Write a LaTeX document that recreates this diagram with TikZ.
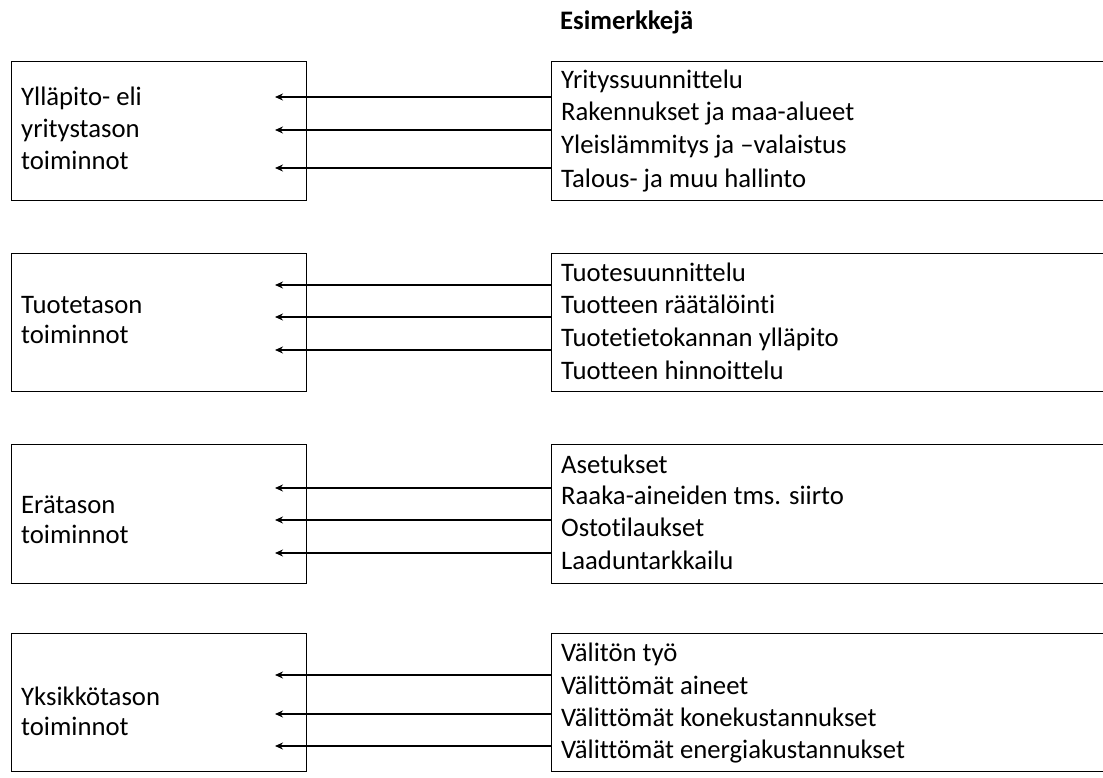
\documentclass[tikz,border=0pt]{standalone}
\usepackage{fontspec}
\setmainfont{Carlito}[Ligatures={NoCommon}]
\usetikzlibrary{arrows.meta}
\begin{document}
\begin{tikzpicture}[x=1pt,y=-1pt,
  box/.style={draw, line width=1.4pt, rectangle, inner sep=0pt, anchor=north west},
  txt/.style={anchor=base west, inner sep=0pt, font=\fontsize{26.7}{32}\selectfont},
  head/.style={anchor=base west, inner sep=0pt, font=\bfseries\fontsize{26.7}{32}\selectfont},
  arr/.style={line width=1.3pt, -{Stealth[length=8pt,width=7pt]}}]
\useasboundingbox (0,0) rectangle (1103,778);

\node[head] (title) at (560,30) {Esimerkkejä};

% ---- boxes
\node[box, minimum width=295pt, minimum height=139pt] (L1) at (11,61) {};
\node[box, minimum width=295pt, minimum height=138pt] (L2) at (11,253) {};
\node[box, minimum width=295pt, minimum height=139pt] (L3) at (11,444) {};
\node[box, minimum width=295pt, minimum height=138pt] (L4) at (11,633) {};
\node[box, minimum width=570pt, minimum height=139pt] (R1) at (551,61) {};
\node[box, minimum width=570pt, minimum height=138pt] (R2) at (551,253) {};
\node[box, minimum width=570pt, minimum height=139pt] (R3) at (551,444) {};
\node[box, minimum width=570pt, minimum height=138pt] (R4) at (551,633) {};

% ---- left texts
\node[txt] (l1a) at (21,106) {Ylläpito- eli};
\node[txt] (l1b) at (21,138) {yritystason};
\node[txt] (l1c) at (21,170) {toiminnot};
\node[txt] (l2a) at (21,313) {Tuotetason};
\node[txt] (l2b) at (21,343) {toiminnot};
\node[txt] (l3a) at (21,513) {Erätason};
\node[txt] (l3b) at (21,543) {toiminnot};
\node[txt] (l4a) at (21,705) {Yksikkötason};
\node[txt] (l4b) at (21,735) {toiminnot};

% ---- right texts
\node[txt] (r1a) at (561,89) {Yrityssuunnittelu};
\node[txt] (r1b) at (561,121) {Rakennukset ja maa-alueet};
\node[txt] (r1c) at (561,154) {Yleislämmitys ja –valaistus};
\node[txt] (r1d) at (561,188) {Talous- ja muu hallinto};
\node[txt] (r2a) at (561,281) {Tuotesuunnittelu};
\node[txt] (r2b) at (561,313) {Tuotteen räätälöinti};
\node[txt] (r2c) at (561,346) {Tuotetietokannan ylläpito};
\node[txt] (r2d) at (561,379) {Tuotteen hinnoittelu};
\node[txt] (r3a) at (561,473) {Asetukset};
\node[txt] (r3b) at (561,504) {Raaka-aineiden tms. siirto};
\node[txt] (r3c) at (561,536) {Ostotilaukset};
\node[txt] (r3d) at (561,569) {Laaduntarkkailu};
\node[txt] (r4a) at (561,661) {Välitön työ};
\node[txt] (r4b) at (561,694) {Välittömät aineet};
\node[txt] (r4c) at (561,726) {Välittömät konekustannukset};
\node[txt] (r4d) at (561,758) {Välittömät energiakustannukset};

% ---- arrow end points
\coordinate (e1a) at (275,97);
\coordinate (e1b) at (275,130);
\coordinate (e1c) at (275,168);
\coordinate (e2a) at (275,285);
\coordinate (e2b) at (275,317);
\coordinate (e2c) at (275,350);
\coordinate (e3a) at (275,488);
\coordinate (e3b) at (275,520);
\coordinate (e3c) at (275,553);
\coordinate (e4a) at (275,675);
\coordinate (e4b) at (275,714);
\coordinate (e4c) at (275,746);

\foreach \b in {1,2,3,4}{
  \foreach \k in {a,b,c}{
    \draw[arr] (R\b.west |- e\b\k) -- (e\b\k);
  }
}
\end{tikzpicture}
\end{document}
